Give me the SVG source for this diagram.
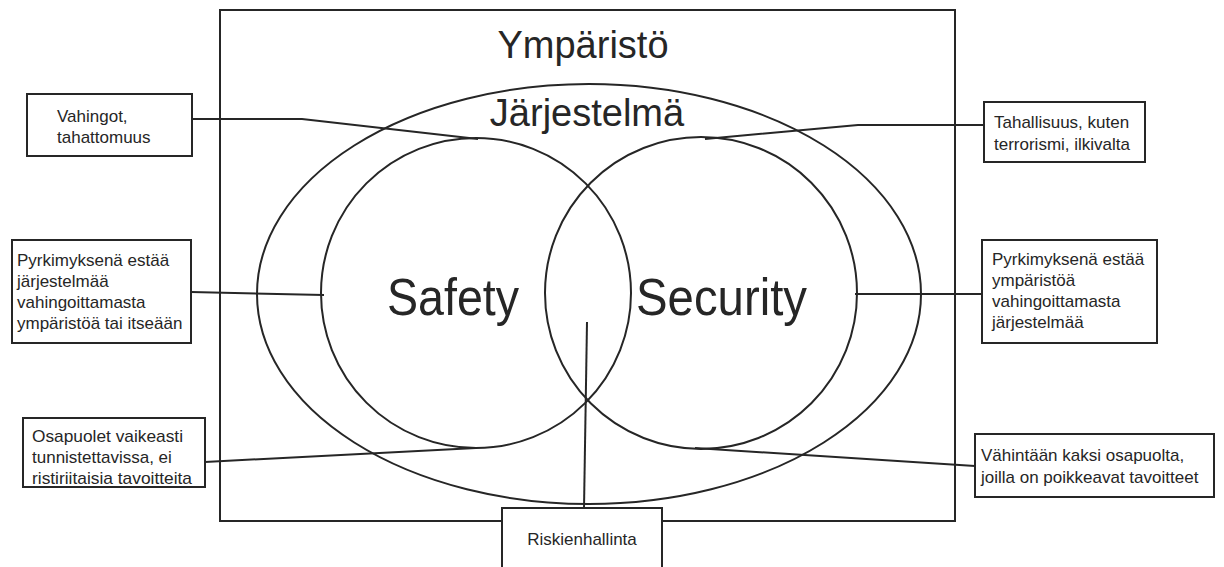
<svg xmlns="http://www.w3.org/2000/svg" width="1224" height="567" viewBox="0 0 1224 567">
<style>
.ln{fill:none;stroke:#262626;stroke-width:2}
.bx{fill:#fff;stroke:#262626;stroke-width:2}
.t{font-family:"Liberation Sans",Arial,sans-serif;fill:#262626}
.s{font-size:17px}
.m{font-size:17px}
.big{font-size:38px}
.huge{font-size:52px}
</style>
<rect width="1224" height="567" fill="#fff"/>
<g id="environment">
<rect class="ln" x="220" y="10" width="735" height="511"/>
<text class="t big" x="583" y="58" text-anchor="middle">Ympäristö</text>
</g>
<g id="system">
<ellipse class="ln" cx="589" cy="294" rx="332" ry="210"/>
<text class="t big" x="587" y="126" text-anchor="middle">Järjestelmä</text>
</g>
<g id="safety">
<circle class="ln" cx="476" cy="293" r="155"/>
<text class="t huge" x="387" y="315" textLength="132" lengthAdjust="spacingAndGlyphs">Safety</text>
</g>
<g id="security">
<circle class="ln" cx="701" cy="293" r="156"/>
<text class="t huge" x="636" y="315" textLength="171" lengthAdjust="spacingAndGlyphs">Security</text>
</g>
<g id="connectors">
<polyline class="ln" points="192,119 302,119 478,139"/>
<polyline class="ln" points="984,125 858,125 705,139"/>
<line class="ln" x1="191" y1="292" x2="324" y2="295"/>
<line class="ln" x1="855" y1="294" x2="982" y2="294"/>
<line class="ln" x1="205" y1="462" x2="476" y2="448"/>
<line class="ln" x1="975" y1="466" x2="695" y2="448"/>
<line class="ln" x1="587" y1="322" x2="584" y2="508"/>
</g>
<g id="box-vahingot">
<rect class="bx" x="27" y="94" width="165" height="62"/>
<text class="t s" x="57" y="122">Vahingot,</text>
<text class="t s" x="57" y="143">tahattomuus</text>
</g>
<g id="box-tahallisuus">
<rect class="bx" x="984" y="102" width="161" height="60"/>
<text class="t s" x="994" y="128">Tahallisuus, kuten</text>
<text class="t s" x="994" y="150">terrorismi, ilkivalta</text>
</g>
<g id="box-safety-goal">
<rect class="bx" x="12" y="240" width="179" height="103"/>
<text class="t m" x="17" y="266">Pyrkimyksenä estää</text>
<text class="t m" x="17" y="287">järjestelmää</text>
<text class="t m" x="17" y="308">vahingoittamasta</text>
<text class="t m" x="17" y="329">ympäristöä tai itseään</text>
</g>
<g id="box-security-goal">
<rect class="bx" x="982" y="240" width="175" height="103"/>
<text class="t m" x="992" y="265">Pyrkimyksenä estää</text>
<text class="t m" x="992" y="286">ympäristöä</text>
<text class="t m" x="992" y="307">vahingoittamasta</text>
<text class="t m" x="992" y="328">järjestelmää</text>
</g>
<g id="box-osapuolet">
<rect class="bx" x="23" y="418" width="182" height="69"/>
<text class="t m" x="32" y="442" textLength="151" lengthAdjust="spacingAndGlyphs">Osapuolet vaikeasti</text>
<text class="t m" x="32" y="463">tunnistettavissa, ei</text>
<text class="t m" x="32" y="484" textLength="160" lengthAdjust="spacingAndGlyphs">ristiriitaisia  tavoitteita</text>
</g>
<g id="box-vahintaan">
<rect class="bx" x="975" y="434" width="239" height="63"/>
<text class="t s" x="981" y="461">Vähintään kaksi osapuolta,</text>
<text class="t s" x="981" y="483">joilla on poikkeavat tavoitteet</text>
</g>
<g id="box-riskienhallinta">
<rect class="bx" x="502" y="508" width="160" height="80"/>
<text class="t s" x="582" y="545" text-anchor="middle">Riskienhallinta</text>
</g>
</svg>
